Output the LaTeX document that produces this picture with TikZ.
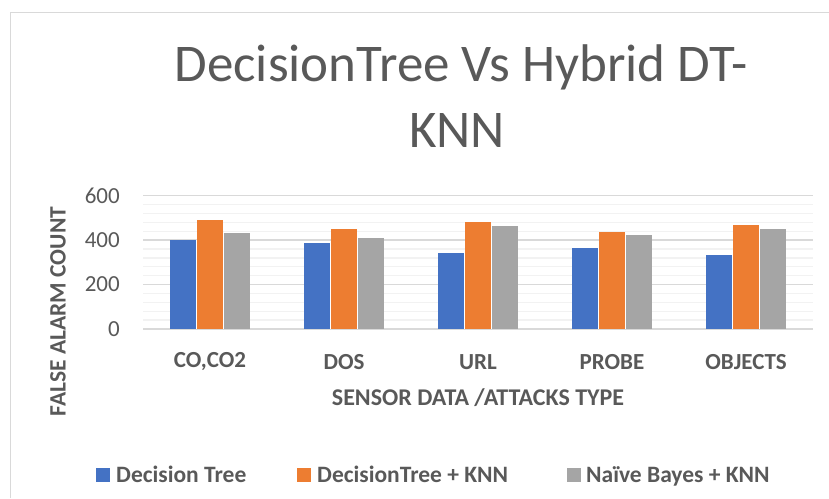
\documentclass[tikz,border=0pt]{standalone}
\usepackage{fontspec}
\setmainfont{Carlito}
\definecolor{serA}{HTML}{4472C4}
\definecolor{serB}{HTML}{ED7D31}
\definecolor{serC}{HTML}{A5A5A5}
\definecolor{txt}{HTML}{595959}
\definecolor{gridmaj}{HTML}{D9D9D9}
\definecolor{gridmin}{HTML}{F2F2F2}
\tikzset{
  lbl/.style={text=txt, inner sep=0pt},
  ticklbl/.style={lbl, font=\fontsize{23}{25}\selectfont, anchor=east},
  catlbl/.style={lbl, font=\bfseries\fontsize{23}{25}\selectfont},
  legtxt/.style={lbl, font=\bfseries\fontsize{23.5}{25}\selectfont, anchor=base west},
  legbox/.style={minimum size=14pt, inner sep=0pt},
}
\begin{document}
\begin{tikzpicture}[x=1pt, y=-1pt]
  \useasboundingbox (0,0) rectangle (829,498);
  % chart frame
  \draw[gridmaj, line width=1pt] (10,498) -- (10,12) -- (829,12);
  % title
  \node[lbl, font=\fontsize{53}{60}\selectfont, anchor=base] (t1) at (461,81) {DecisionTree Vs Hybrid DT-};
  \node[lbl, font=\fontsize{53}{60}\selectfont, anchor=base] (t2) at (457,147) {KNN};
  % gridlines: minor every 40, major every 200
  \foreach \v in {40,80,...,560}
    \draw[gridmin, line width=1.3pt] (143,{329-\v*0.2222}) -- (813,{329-\v*0.2222});
  \foreach \v in {0,200,400,600}
    \draw[gridmaj, line width=1.3pt] (143,{329-\v*0.2222}) -- (813,{329-\v*0.2222});
  % y tick labels
  \foreach \v in {0,200,400,600}
    \node[ticklbl] (tick\v) at (120,{329-\v*0.2222}) {\v};
  % bars
  \foreach \i/\a/\b/\c/\name in {0/400/490/432/CO\char44CO2, 1/387/450/411/DOS, 2/340/481/464/URL, 3/366/435/423/PROBE, 4/332/467/452/OBJECTS}{
    \pgfmathsetmacro{\cx}{143+134*(\i+0.5)}
    \fill[serA] ({\cx-40.2},329) rectangle ({\cx-13.4},{329-\a*0.2222});
    \fill[serB] ({\cx-13.4},329) rectangle ({\cx+13.4},{329-\b*0.2222});
    \fill[serC] ({\cx+13.4},329) rectangle ({\cx+40.2},{329-\c*0.2222});
    \draw[white, line width=0.6pt] ({\cx-13.4},329) -- ({\cx-13.4},{329-\a*0.2222});
    \draw[white, line width=0.6pt] ({\cx+13.4},329) -- ({\cx+13.4},{329-\c*0.2222});
    \node[catlbl] (cat\i) at (\cx,362) {\name};
  }
  % axis titles
  \node[lbl, font=\bfseries\fontsize{24}{26}\selectfont] (xt) at (478,398) {SENSOR DATA /ATTACKS TYPE};
  \node[lbl, font=\bfseries\fontsize{23.5}{26}\selectfont, rotate=90] (yt) at (58,311.5) {FALSE ALARM COUNT};
  % legend
  \node[legbox, fill=serA] (lk1) at (103,474.7) {};
  \node[legtxt] (lt1) at (116,482) {Decision Tree};
  \node[legbox, fill=serB] (lk2) at (304,474.7) {};
  \node[legtxt] (lt2) at (317,482) {DecisionTree + KNN};
  \node[legbox, fill=serC] (lk3) at (573.7,474.7) {};
  \node[legtxt] (lt3) at (586,482) {Naïve Bayes + KNN};
\end{tikzpicture}
\end{document}
